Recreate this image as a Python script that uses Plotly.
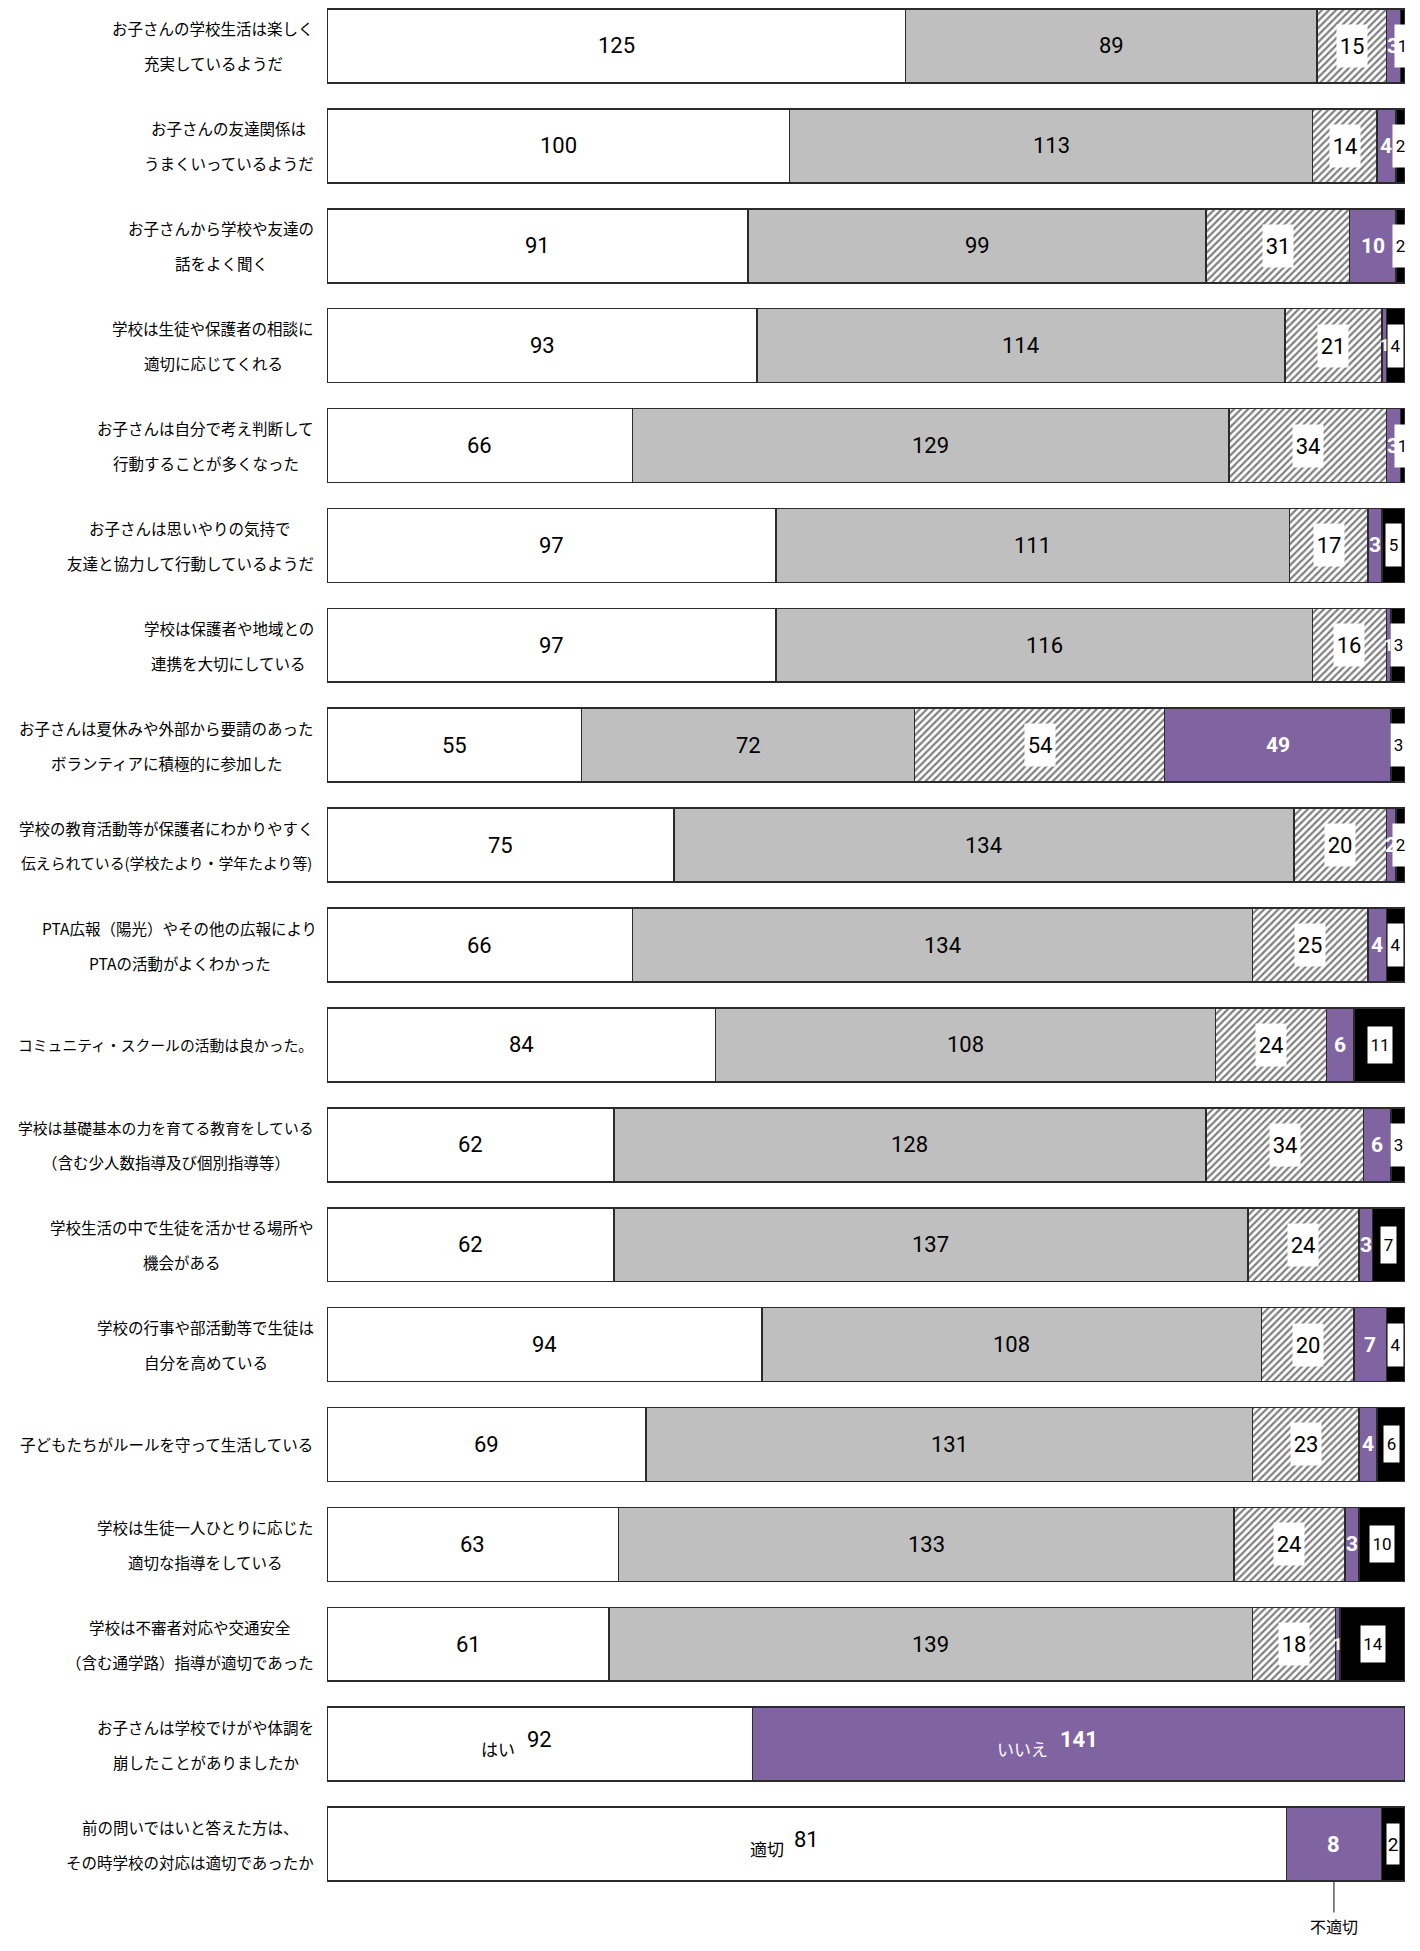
import plotly.graph_objects as go

categories = [
    ["お子さんの学校生活は楽しく", "充実しているようだ"],
    ["お子さんの友達関係は", "うまくいっているようだ"],
    ["お子さんから学校や友達の", "話をよく聞く"],
    ["学校は生徒や保護者の相談に", "適切に応じてくれる"],
    ["お子さんは自分で考え判断して", "行動することが多くなった"],
    ["お子さんは思いやりの気持で", "友達と協力して行動しているようだ"],
    ["学校は保護者や地域との", "連携を大切にしている"],
    ["お子さんは夏休みや外部から要請のあった", "ボランティアに積極的に参加した"],
    ["学校の教育活動等が保護者にわかりやすく", "伝えられている(学校たより・学年たより等)"],
    ["PTA広報（陽光）やその他の広報により", "PTAの活動がよくわかった"],
    ["コミュニティ・スクールの活動は良かった。"],
    ["学校は基礎基本の力を育てる教育をしている", "（含む少人数指導及び個別指導等）"],
    ["学校生活の中で生徒を活かせる場所や", "機会がある"],
    ["学校の行事や部活動等で生徒は", "自分を高めている"],
    ["子どもたちがルールを守って生活している"],
    ["学校は生徒一人ひとりに応じた", "適切な指導をしている"],
    ["学校は不審者対応や交通安全", "（含む通学路）指導が適切であった"],
    ["お子さんは学校でけがや体調を", "崩したことがありましたか"],
    ["前の問いではいと答えた方は、", "その時学校の対応は適切であったか"],
]

s1_white  = [125, 100, 91, 93, 66, 97, 97, 55, 75, 66, 84, 62, 62, 94, 69, 63, 61, 92, 81]
s2_gray   = [89, 113, 99, 114, 129, 111, 116, 72, 134, 134, 108, 128, 137, 108, 131, 133, 139, 0, 0]
s3_hatch  = [15, 14, 31, 21, 34, 17, 16, 54, 20, 25, 24, 34, 24, 20, 23, 24, 18, 0, 0]
s4_purple = [3, 4, 10, 1, 3, 3, 1, 49, 2, 4, 6, 6, 3, 7, 4, 3, 1, 141, 8]
s5_black  = [1, 2, 2, 4, 1, 5, 3, 3, 2, 4, 11, 3, 7, 4, 6, 10, 14, 0, 2]

row18_names = ["はい", "いいえ"]
row19_names = ["適切", "不適切"]

series = [s1_white, s2_gray, s3_hatch, s4_purple, s5_black]
ykeys = ["".join(c) for c in categories]

PURPLE = "#8064A2"
GRAY = "#BFBFBF"
EDGE = "#2b2b2b"
NUMFONT = "Liberation Sans Narrow, Roboto, Noto Sans CJK JP, sans-serif"
JPFONT = "Noto Sans CJK JP, sans-serif"

fig = go.Figure()
styles = [
    dict(color="white"),
    dict(color=GRAY),
    dict(color="white", pattern=dict(shape="/", fgcolor="black", bgcolor="white", size=5, solidity=0.45)),
    dict(color=PURPLE),
    dict(color="black"),
]
names = ["s1", "s2", "s3", "s4", "s5"]
for vals, st, nm in zip(series, styles, names):
    fig.add_trace(go.Bar(
        y=ykeys, x=vals, orientation="h", name=nm,
        marker=dict(line=dict(color=EDGE, width=1.6), **st),
        showlegend=False, hoverinfo="skip",
    ))

# page body has an 8px margin; figure is sized to fit inside the window
W, H = 1404, 1935
L, R, T, B = 319, 7, 0, 49
plot_w = W - L - R

NS = 22
ann = []
for i, key in enumerate(ykeys):
    vals = [s[i] for s in series]
    tot = sum(vals)
    cum = 0
    centers = []
    for v in vals:
        centers.append((cum + v / 2) / tot * 100)
        cum += v
    if i == 17:
        ann.append(dict(x=centers[0], y=key, text=str(vals[0]), showarrow=False, yshift=5,
                        font=dict(family=NUMFONT, size=NS, color="black")))
        ann.append(dict(x=centers[0], y=key, text=row18_names[0], showarrow=False, xshift=-42, yshift=-4,
                        font=dict(family=JPFONT, size=17, color="black")))
        ann.append(dict(x=centers[3], y=key, text="<b>%d</b>" % vals[3], showarrow=False, yshift=5,
                        font=dict(family=NUMFONT, size=NS, color="white")))
        ann.append(dict(x=centers[3], y=key, text=row18_names[1], showarrow=False, xshift=-56, yshift=-4,
                        font=dict(family=JPFONT, size=17, color="white")))
        continue
    if i == 18:
        ann.append(dict(x=centers[0], y=key, text=str(vals[0]), showarrow=False, yshift=5,
                        font=dict(family=NUMFONT, size=NS, color="black")))
        ann.append(dict(x=centers[0], y=key, text=row19_names[0], showarrow=False, xshift=-40, yshift=-4,
                        font=dict(family=JPFONT, size=17, color="black")))
        ann.append(dict(x=centers[3], y=key, text="<b>%d</b>" % vals[3], showarrow=False,
                        font=dict(family=NUMFONT, size=NS, color="white")))
        ann.append(dict(x=centers[4], y=key, text=str(vals[4]), showarrow=False,
                        bgcolor="white", width=12, height=40, borderpad=0,
                        font=dict(family=NUMFONT, size=19, color="black")))
        ann.append(dict(x=centers[3], y=key, text=row19_names[1], showarrow=True,
                        arrowhead=0, arrowwidth=1.2, arrowcolor="#333",
                        ax=0, ay=45, yshift=-37, standoff=0, startstandoff=0,
                        font=dict(family=JPFONT, size=16, color="black")))
        continue
    ann.append(dict(x=centers[0], y=key, text=str(vals[0]), showarrow=False,
                    font=dict(family=NUMFONT, size=NS, color="black")))
    ann.append(dict(x=centers[1], y=key, text=str(vals[1]), showarrow=False,
                    font=dict(family=NUMFONT, size=NS, color="black")))
    ann.append(dict(x=centers[2], y=key, text=str(vals[2]), showarrow=False,
                    bgcolor="white", width=30, height=42, borderpad=0,
                    font=dict(family=NUMFONT, size=NS, color="black")))
    ann.append(dict(x=centers[3], y=key, text="<b>%d</b>" % vals[3], showarrow=False,
                    font=dict(family=NUMFONT, size=21 if vals[3] > 1 else 16, color="white")))
    nd = len(str(vals[4]))
    ann.append(dict(x=centers[4], y=key, text=str(vals[4]), showarrow=False,
                    bgcolor="white", width=nd * 9 + 6, height=42 if vals[4] <= 5 else 36, borderpad=0,
                    font=dict(family=NUMFONT, size=17, color="black")))

FS = 15.5
MAXW = 296
def text_w(s, fs):
    w = 0.0
    for c in s:
        w += fs if ord(c) > 0x2000 else 0.45 * fs
    return w

right_px = 306
for i, lines in enumerate(categories):
    sizes = []
    widths = []
    for t in lines:
        w = text_w(t, FS)
        fs = FS if w <= MAXW else FS * MAXW / w
        sizes.append(fs)
        widths.append(text_w(t, fs))
    bw = max(widths)
    cx = (right_px - bw / 2 - L) / plot_w
    shifts = [0] if len(lines) == 1 else [17.5, -17.5]
    for t, sh, fs in zip(lines, shifts, sizes):
        ann.append(dict(x=cx, xref="paper", y=ykeys[i], yref="y", text=t, showarrow=False,
                        xanchor="center", yshift=sh,
                        font=dict(family=JPFONT, size=fs, color="#000")))

fig.update_layout(
    width=W, height=H,
    margin=dict(l=L, r=R, t=T, b=B, pad=0),
    barmode="stack", barnorm="percent", bargap=0.26,
    paper_bgcolor="white", plot_bgcolor="white",
    xaxis=dict(range=[0, 100], visible=False, fixedrange=True),
    yaxis=dict(categoryorder="array", categoryarray=ykeys, range=[18.5, -0.38],
               visible=False, fixedrange=True),
    annotations=ann,
    font=dict(family=JPFONT),
)

fig.write_html("out.html")
